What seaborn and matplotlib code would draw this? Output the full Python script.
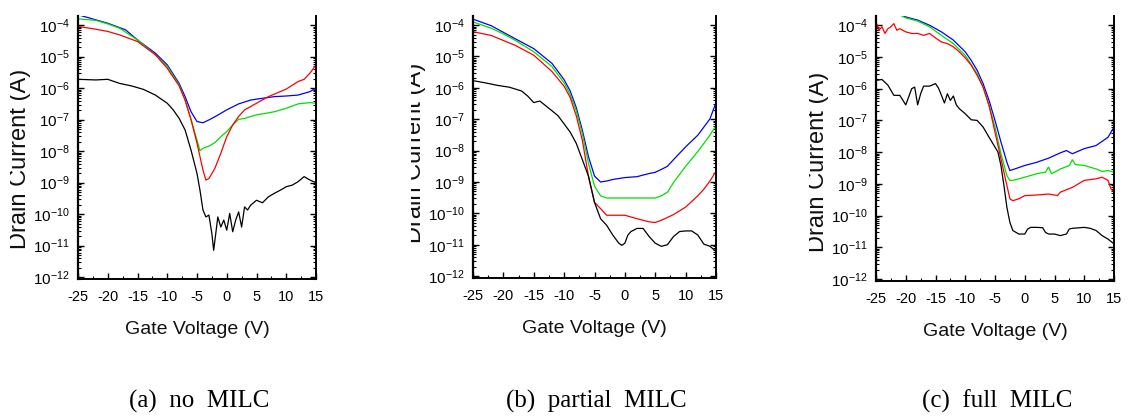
import numpy as np
import pandas as pd
import seaborn as sns
import matplotlib
matplotlib.use("Agg")
import matplotlib.pyplot as plt
from matplotlib.ticker import LogLocator, MultipleLocator, NullFormatter
from matplotlib.transforms import Bbox, TransformedBbox

# ---------------- data (log10 of drain current in A) ----------------
# (a) no MILC
a_blue_x = [-25, -20, -17, -15, -12, -10, -8, -7, -6, -5, -4, -3, -2, 0, 2, 4, 5, 8, 10, 12, 14, 15]
a_blue_log = [-3.67, -3.94, -4.15, -4.47, -4.89, -5.26, -5.85, -6.27, -6.75, -7.06, -7.10, -7.01, -6.91,
              -6.69, -6.50, -6.38, -6.35, -6.27, -6.25, -6.22, -6.11, -6.00]
a_green_x = [-25, -22, -20, -18, -15, -12, -10, -8, -7, -6, -5, -4.5, -4, -3, -2, -1, 0, 1, 2, 3, 5, 8,
             10, 12, 14, 15]
a_green_log = [-3.80, -3.85, -3.96, -4.10, -4.47, -4.94, -5.31, -5.90, -6.38, -7.00, -7.65, -7.99, -7.91,
               -7.84, -7.73, -7.54, -7.38, -7.17, -6.99, -6.96, -6.85, -6.75, -6.64, -6.50, -6.46, -6.48]
a_red_x = [-25, -22, -20, -18, -15, -12, -10, -8, -7, -6, -5, -4, -3.5, -3, -2, -1, 0, 1, 2, 3, 5, 7, 10,
           12, 13, 14, 15]
a_red_log = [-4.04, -4.13, -4.20, -4.31, -4.52, -4.94, -5.37, -5.93, -6.38, -7.00, -7.75, -8.60, -8.92,
             -8.87, -8.55, -8.07, -7.54, -7.17, -6.90, -6.69, -6.48, -6.27, -6.03, -5.79, -5.72, -5.52, -5.26]
a_black_x = [-25, -22, -20, -18, -16, -14, -12, -10, -9, -8, -7, -6, -5, -4.5, -4, -3.5, -3, -2.5, -2.2,
             -1.5, -1, -0.5, 0, 0.5, 1, 1.5, 2, 2.5, 3, 3.5, 4, 5, 6, 7, 8, 9, 10, 11, 12, 13, 14, 15]
a_black_log = [-5.72, -5.74, -5.72, -5.85, -5.93, -6.04, -6.22, -6.48, -6.69, -6.96, -7.33, -7.97, -8.71,
               -9.24, -9.87, -10.09, -10.03, -10.62, -11.15, -10.09, -10.41, -10.19, -10.51, -9.98,
               -10.56, -10.19, -9.93, -10.41, -9.77, -9.87, -9.72, -9.56, -9.64, -9.45, -9.34, -9.24,
               -9.13, -9.08, -8.97, -8.81, -8.92, -9.00]

# (b) partial MILC
b_blue_x = [-25, -22, -20, -18, -15, -12, -10, -9, -8, -7, -6, -5, -4, -3, -2, 0, 2, 4, 5, 6, 7, 8, 10,
            12, 13, 14, 15]
b_blue_log = [-3.81, -4.02, -4.23, -4.44, -4.75, -5.22, -5.74, -6.10, -6.63, -7.35, -8.19, -8.81, -9.00,
              -8.97, -8.92, -8.86, -8.83, -8.73, -8.69, -8.60, -8.50, -8.29, -7.88, -7.51, -7.25, -6.99, -6.47]
b_green_x = [-25, -22, -20, -18, -15, -12, -10, -9, -8, -7, -6, -5, -4, -3, 0, 5, 6, 7, 8, 10, 12, 13,
             14, 15]
b_green_log = [-3.90, -4.10, -4.28, -4.49, -4.85, -5.32, -5.84, -6.21, -6.73, -7.46, -8.40, -9.13, -9.44,
               -9.51, -9.51, -9.51, -9.44, -9.33, -9.02, -8.50, -8.03, -7.77, -7.51, -7.20]
b_red_x = [-25, -22, -20, -18, -15, -12, -10, -9, -8, -7, -6, -5, -4, -3, 0, 2, 4, 5, 6, 8, 10, 12, 13,
           14, 15]
b_red_log = [-4.21, -4.33, -4.49, -4.65, -4.96, -5.48, -5.95, -6.31, -6.89, -7.67, -8.81, -9.65, -9.85,
             -10.06, -10.06, -10.17, -10.27, -10.29, -10.22, -10.04, -9.80, -9.44, -9.23, -8.97, -8.66]
b_black_x = [-25, -23, -21, -19, -17, -16, -15, -14, -12, -11, -10, -9, -8, -7, -6, -5, -4, -3, -2, -1,
             -0.5, 0, 0.5, 1, 2, 3, 4, 5, 6, 7, 8, 9, 10, 11, 12, 13, 14, 15]
b_black_log = [-5.77, -5.84, -5.92, -5.98, -6.10, -6.26, -6.47, -6.42, -6.73, -6.89, -7.15, -7.41, -7.77,
               -8.29, -8.81, -9.65, -10.17, -10.38, -10.69, -10.95, -11.02, -10.95, -10.69, -10.58,
               -10.48, -10.48, -10.74, -10.95, -11.05, -11.00, -10.74, -10.58, -10.56, -10.56, -10.69,
               -10.98, -11.05, -11.21]

# (c) full MILC
c_blue_x = [-25, -21, -20, -18, -16, -14, -12, -10, -9, -8, -7, -6, -5, -4, -3, -2.5, -2, 0, 2, 4, 6, 7,
            8, 10, 12, 13, 14, 15]
c_blue_log = [-3.30, -3.66, -3.74, -3.84, -4.00, -4.21, -4.47, -4.84, -5.11, -5.42, -5.84, -6.37, -7.00,
              -7.68, -8.32, -8.58, -8.55, -8.42, -8.32, -8.19, -8.02, -7.95, -8.05, -7.89, -7.79, -7.66,
              -7.53, -7.21]
c_green_x = [-25, -21, -20, -18, -16, -14, -12, -10, -8, -7, -6, -5, -4, -3, -2.5, -2, 0, 2, 3.5, 4, 4.5,
             6, 7.5, 8, 8.5, 10, 12, 13, 14, 15]
c_green_log = [-3.35, -3.68, -3.77, -3.87, -4.05, -4.32, -4.58, -4.95, -5.53, -5.95, -6.53, -7.21, -8.05,
               -8.74, -8.89, -8.89, -8.79, -8.68, -8.63, -8.47, -8.68, -8.53, -8.42, -8.24, -8.39, -8.42,
               -8.53, -8.61, -8.58, -8.63]
c_red_x = [-25, -24.5, -24, -23.5, -23, -22.5, -22, -21.5, -21, -20, -19, -18, -17, -16, -15, -14, -13,
           -12, -11, -10, -9, -8, -7, -6, -5, -4, -3, -2.5, -2, -1, 0, 2, 4, 5, 5.5, 6, 8, 10, 12, 13, 14,
           14.5, 15]
c_red_log = [-3.89, -4.16, -4.05, -4.26, -4.11, -4.05, -3.95, -4.16, -4.11, -4.21, -4.26, -4.26, -4.32,
             -4.26, -4.40, -4.53, -4.58, -4.68, -4.84, -5.03, -5.26, -5.58, -5.95, -6.53, -7.37, -8.21,
             -9.05, -9.47, -9.53, -9.47, -9.37, -9.35, -9.32, -9.35, -9.37, -9.26, -9.11, -8.89, -8.84,
             -8.79, -8.89, -9.16, -9.26]
c_black_x = [-25, -24, -23, -22, -21, -20, -19, -18.5, -18, -17.5, -17, -16, -15, -14.5, -14, -13.5, -13,
             -12.5, -12, -11.5, -11, -10, -9, -8, -7, -6, -5, -4.5, -4, -3.5, -3, -2.5, -2, -1, 0, 0.5,
             1, 2, 3, 3.5, 4, 5, 6, 7, 7.5, 8, 10, 11, 12, 13, 14, 15]
c_black_log = [-5.74, -5.71, -5.89, -6.21, -6.21, -6.51, -6.00, -5.95, -6.51, -6.16, -5.92, -5.92, -5.84,
               -5.98, -6.21, -6.45, -6.16, -6.37, -6.23, -6.51, -6.63, -6.79, -6.98, -7.00, -7.21, -7.53,
               -7.84, -8.00, -8.42, -9.05, -9.74, -10.21, -10.47, -10.58, -10.58, -10.42, -10.37, -10.37,
               -10.38, -10.53, -10.58, -10.58, -10.63, -10.58, -10.42, -10.40, -10.37, -10.40, -10.47,
               -10.63, -10.74, -10.89]

captions = ["(a)  no  MILC", "(b)  partial  MILC", "(c)  full  MILC"]
x_label = "Gate Voltage (V)"
y_label = "Drain Current (A)"
x_ticks = [-25, -20, -15, -10, -5, 0, 5, 10, 15]
series_names = ["blue", "green", "red", "black"]
colors = {"blue": "#0000ff", "green": "#00e000", "red": "#ff0000", "black": "#000000"}

panels = [
    [(a_blue_x, a_blue_log), (a_green_x, a_green_log), (a_red_x, a_red_log), (a_black_x, a_black_log)],
    [(b_blue_x, b_blue_log), (b_green_x, b_green_log), (b_red_x, b_red_log), (b_black_x, b_black_log)],
    [(c_blue_x, c_blue_log), (c_green_x, c_green_log), (c_red_x, c_red_log), (c_black_x, c_black_log)],
]

# ---------------- figure ----------------
sns.set_theme(style="ticks")
plt.rcParams["font.family"] = ["Liberation Sans", "DejaVu Sans"]
plt.rcParams["mathtext.default"] = "regular"
plt.rcParams["axes.unicode_minus"] = False

W, H = 1128, 417
fig = plt.figure(figsize=(W / 100, H / 100), dpi=100)
fig.patch.set_facecolor("white")

# axes rectangles in pixels: (left, right, top, bottom)
rects = [(78, 316, 16, 279), (473, 716, 16, 278), (876, 1114, 16, 281)]
clip_left = [10, 411, 809]
ylabel_center_px = [159, 153, 162]

for i, (rect, curves) in enumerate(zip(rects, panels)):
    l, r, t, b = rect
    ax = fig.add_axes([l / W, (H - b) / H, (r - l) / W, (b - t) / H])
    ax.set_facecolor("white")
    ax.set_yscale("log")
    rows = []
    for name, (xs, ls) in zip(series_names, curves):
        for xv, lv in zip(xs, ls):
            rows.append({"Vg": xv, "Id": 10.0 ** lv, "curve": name})
    df = pd.DataFrame(rows)
    sns.lineplot(data=df, x="Vg", y="Id", hue="curve", palette=colors, hue_order=series_names,
                 estimator=None, sort=False, linewidth=0.9, legend=False, ax=ax)
    ax.set_xlim(-25, 15)
    ax.set_ylim(10 ** -12.06, 10 ** -3.71)
    ax.set_xticks(x_ticks)
    ax.xaxis.set_minor_locator(MultipleLocator(2.5))
    ax.yaxis.set_major_locator(LogLocator(base=10, numticks=20))
    ax.yaxis.set_minor_locator(LogLocator(base=10, subs=np.arange(2, 10), numticks=20))
    ax.yaxis.set_minor_formatter(NullFormatter())
    ax.tick_params(axis="both", which="both", direction="in", colors="black",
                   top=False, right=True, left=True, bottom=True)
    ax.tick_params(axis="x", labelsize=10.5, pad=8)
    ax.tick_params(axis="y", labelsize=11, pad=6)
    ax.tick_params(which="major", length=4, width=1.0)
    ax.tick_params(which="minor", length=2, width=0.8)
    ax.spines["top"].set_visible(False)
    for s in ["left", "right", "bottom"]:
        ax.spines[s].set_color("black")
    ax.spines["left"].set_linewidth(1.6)
    ax.spines["bottom"].set_linewidth(1.4)
    ax.spines["right"].set_linewidth(1.4)

    ax.set_xlabel(x_label, fontsize=14, color="#111111")
    ax.xaxis.set_label_coords(0.5, -42 / (b - t))
    ax.set_ylabel(y_label, fontsize=17, color="#111111")
    ax.yaxis.set_label_coords(-47 / (r - l), (b - ylabel_center_px[i]) / (b - t))
    lab = ax.yaxis.label
    lab.set_clip_box(TransformedBbox(Bbox([[clip_left[i] / W, 0], [1, 1]]), fig.transFigure))
    lab.set_clip_on(True)

    fig.text(((l + r) / 2 + 2) / W, 9 / H, captions[i], ha="center", va="baseline",
             fontsize=18, family=["Liberation Serif", "DejaVu Serif"], color="black")

fig.savefig("out.png", dpi=100, facecolor="white")
